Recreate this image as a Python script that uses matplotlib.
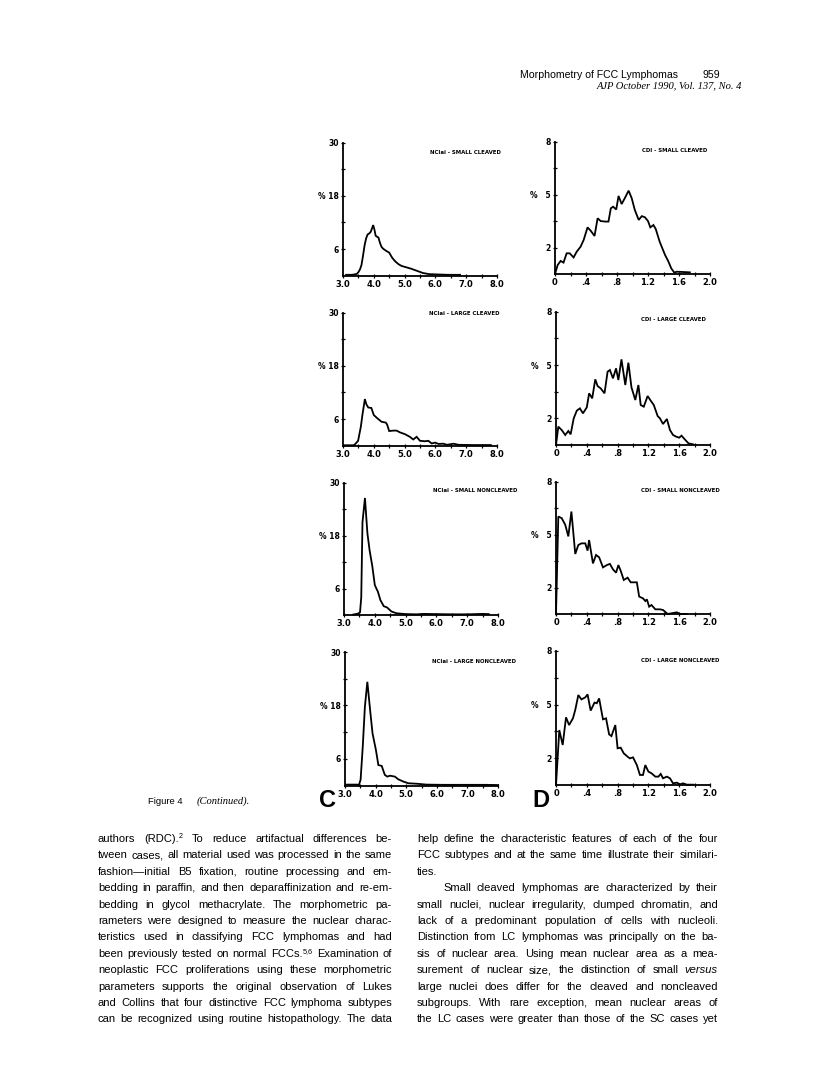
import matplotlib
matplotlib.use("Agg")
import matplotlib.pyplot as plt

W, H = 816, 1092

# ---- histogram traces (x value, % of nuclei) ----
nci_sc_x = [3.1, 3.3, 3.45, 3.5, 3.55, 3.6, 3.65, 3.7, 3.75, 3.8, 3.85, 3.9, 3.95, 3.98, 4.02, 4.06, 4.1, 4.15,
            4.2, 4.25, 4.3, 4.4, 4.5, 4.6, 4.7, 4.8, 4.9, 5.0, 5.2, 5.4, 5.6, 5.8, 6.0, 6.4, 6.8]
nci_sc_y = [0.2, 0.2, 0.4, 0.8, 1.4, 2.4, 4.5, 6.8, 8.4, 9.3, 9.5, 9.9, 10.8, 11.4, 10.4, 9.0, 8.8, 8.6,
            7.4, 6.5, 6.1, 5.6, 5.2, 4.0, 3.2, 2.6, 2.2, 2.0, 1.6, 1.1, 0.6, 0.35, 0.3, 0.2, 0.2]

nci_lc_x = [3.05, 3.35, 3.4, 3.49, 3.58, 3.63, 3.71, 3.76, 3.82, 3.92, 4.0, 4.11, 4.25, 4.39, 4.43, 4.5, 4.63,
            4.74, 4.85, 5.01, 5.17, 5.28, 5.39, 5.5, 5.66, 5.77, 5.88, 5.99, 6.1, 6.26, 6.37, 6.59, 6.75, 7.2, 7.8]
nci_lc_y = [0.1, 0.1, 0.4, 1.1, 4.3, 6.9, 10.5, 9.3, 8.6, 8.5, 6.9, 6.2, 5.4, 5.2, 4.8, 3.3, 3.4,
            3.4, 3.0, 2.6, 2.0, 1.4, 2.0, 1.1, 1.0, 1.1, 0.5, 0.7, 0.4, 0.45, 0.2, 0.45, 0.2, 0.15, 0.15]

nci_snc_x = [3.3, 3.45, 3.52, 3.56, 3.6, 3.68, 3.76, 3.83, 3.92, 4.0, 4.05, 4.1, 4.18, 4.29, 4.4, 4.54, 4.7,
             5.0, 5.35, 5.6, 6.0, 6.5, 7.0, 7.5, 7.7]
nci_snc_y = [0.1, 0.3, 0.6, 4.0, 21.0, 26.5, 18.5, 14.7, 11.0, 6.8, 6.0, 5.3, 3.4, 2.0, 1.7, 0.8, 0.4,
             0.2, 0.15, 0.25, 0.2, 0.15, 0.15, 0.25, 0.2]

nci_lnc_x = [3.05, 3.4, 3.45, 3.51, 3.58, 3.65, 3.73, 3.82, 3.9, 4.01, 4.09, 4.2, 4.3, 4.38, 4.47, 4.63, 4.74,
             4.9, 5.07, 5.34, 5.66, 6.2, 7.0, 7.6, 8.0]
nci_lnc_y = [0.2, 0.2, 0.0, 1.3, 8.7, 17.7, 23.3, 17.0, 11.7, 8.0, 4.6, 4.4, 2.4, 2.0, 2.2, 2.0, 1.4,
             0.9, 0.5, 0.4, 0.2, 0.15, 0.15, 0.15, 0.1]

cdi_sc_x = [0.0, 0.034, 0.073, 0.11, 0.15, 0.19, 0.24, 0.28, 0.33, 0.37, 0.42, 0.46, 0.51, 0.55, 0.59, 0.65,
            0.69, 0.72, 0.75, 0.79, 0.82, 0.86, 0.9, 0.95, 0.99, 1.03, 1.08, 1.12, 1.16, 1.2, 1.23, 1.27,
            1.3, 1.35, 1.42, 1.46, 1.5, 1.54, 1.57, 1.74]
cdi_sc_y = [0.0, 0.54, 0.79, 0.69, 1.25, 1.25, 1.0, 1.35, 1.65, 2.06, 2.82, 2.62, 2.3, 3.37, 3.2, 3.17,
            3.17, 3.97, 4.07, 3.9, 4.72, 4.23, 4.58, 5.04, 4.58, 3.87, 3.27, 3.5, 3.43, 3.2, 2.82, 2.96,
            2.72, 1.96, 1.15, 0.79, 0.34, 0.08, 0.14, 0.1]

cdi_lc_x = [0.0, 0.03, 0.074, 0.12, 0.16, 0.19, 0.23, 0.27, 0.31, 0.35, 0.4, 0.43, 0.47, 0.51, 0.54, 0.58,
            0.63, 0.67, 0.7, 0.74, 0.78, 0.81, 0.85, 0.9, 0.94, 0.98, 1.03, 1.07, 1.1, 1.14, 1.19, 1.23,
            1.27, 1.32, 1.35, 1.39, 1.44, 1.48, 1.52, 1.56, 1.6, 1.63, 1.68, 1.72, 1.78]
cdi_lc_y = [0.0, 1.1, 0.9, 0.6, 0.84, 0.64, 1.6, 2.06, 2.2, 1.9, 2.26, 3.1, 2.8, 3.94, 3.54, 3.4,
            3.1, 4.4, 4.5, 4.0, 4.6, 3.9, 5.14, 3.6, 4.94, 3.46, 2.7, 3.6, 2.4, 2.3, 2.94, 2.66,
            2.4, 1.74, 1.6, 1.26, 1.56, 0.9, 0.6, 0.5, 0.44, 0.56, 0.3, 0.1, 0.04]

cdi_snc_x = [0.0, 0.03, 0.074, 0.12, 0.16, 0.2, 0.25, 0.29, 0.33, 0.38, 0.41, 0.43, 0.48, 0.52, 0.56, 0.61,
             0.66, 0.7, 0.74, 0.78, 0.81, 0.84, 0.88, 0.93, 0.97, 1.05, 1.08, 1.13, 1.16, 1.18, 1.21, 1.24,
             1.29, 1.35, 1.39, 1.45, 1.5, 1.57, 1.61, 1.7]
cdi_snc_y = [0.0, 5.9, 5.8, 5.4, 4.7, 6.2, 3.64, 4.18, 4.28, 4.28, 3.84, 4.48, 3.07, 3.58, 3.44, 2.83,
             2.97, 3.04, 2.71, 2.51, 2.97, 2.63, 2.07, 2.21, 1.93, 1.93, 1.07, 0.96, 0.8, 0.9, 0.46, 0.56,
             0.3, 0.3, 0.26, 0.02, 0.06, 0.12, 0.02, 0.02]

cdi_lnc_x = [0.0, 0.017, 0.043, 0.087, 0.13, 0.17, 0.22, 0.25, 0.29, 0.33, 0.38, 0.41, 0.45, 0.5, 0.53, 0.56,
             0.61, 0.65, 0.69, 0.72, 0.77, 0.8, 0.84, 0.88, 0.93, 0.96, 1.0, 1.05, 1.09, 1.13, 1.16, 1.2,
             1.24, 1.29, 1.33, 1.36, 1.39, 1.44, 1.48, 1.52, 1.57, 1.61, 1.65, 1.7, 1.78]
cdi_lnc_y = [0.0, 1.3, 3.28, 2.39, 4.04, 3.58, 3.98, 4.48, 5.37, 5.11, 5.23, 5.41, 4.44, 4.92, 4.88, 5.17,
             3.92, 3.98, 3.02, 2.92, 3.58, 2.19, 2.23, 1.89, 1.69, 1.59, 1.65, 1.19, 0.6, 0.6, 1.19, 0.8,
             0.7, 0.5, 0.5, 0.66, 0.4, 0.5, 0.4, 0.1, 0.14, 0.04, 0.1, 0.02, 0.02]

left_titles = ["NCIai - SMALL CLEAVED", "NCIai - LARGE CLEAVED", "NCIai - SMALL NONCLEAVED", "NCIai - LARGE NONCLEAVED"]
right_titles = ["CDI - SMALL CLEAVED", "CDI - LARGE CLEAVED", "CDI - SMALL NONCLEAVED", "CDI - LARGE NONCLEAVED"]

nci_xticks = [3.0, 3.5, 4.0, 4.5, 5.0, 5.5, 6.0, 6.5, 7.0, 7.5, 8.0]
nci_xlabels = ["3.0", "", "4.0", "", "5.0", "", "6.0", "", "7.0", "", "8.0"]
nci_yticks = [6, 12, 18, 24, 30]
nci_ylabels = ["6", "", "% 18", "", "30"]
cdi_xticks = [0.0, 0.2, 0.4, 0.6, 0.8, 1.0, 1.2, 1.4, 1.6, 1.8, 2.0]
cdi_xlabels = ["0", "", ".4", "", ".8", "", "1.2", "", "1.6", "", "2.0"]
cdi_yticks = [1.6, 3.2, 4.8, 6.4, 8.0]
cdi_ylabels = ["2", "", "%   5", "", "8"]

left_col = [
    "authors (RDC).^2 To reduce artifactual differences be-",
    "tween cases, all material used was processed in the same",
    "fashion\u2014initial B5 fixation, routine processing and em-",
    "bedding in paraffin, and then deparaffinization and re-em-",
    "bedding in glycol methacrylate. The morphometric pa-",
    "rameters were designed to measure the nuclear charac-",
    "teristics used in classifying FCC lymphomas and had",
    "been previously tested on normal FCCs.^5,6 Examination of",
    "neoplastic FCC proliferations using these morphometric",
    "parameters supports the original observation of Lukes",
    "and Collins that four distinctive FCC lymphoma subtypes",
    "can be recognized using routine histopathology. The data",
]
right_col = [
    "help define the characteristic features of each of the four",
    "FCC subtypes and at the same time illustrate their similari-",
    "ties.",
    "Small cleaved lymphomas are characterized by their",
    "small nuclei, nuclear irregularity, clumped chromatin, and",
    "lack of a predominant population of cells with nucleoli.",
    "Distinction from LC lymphomas was principally on the ba-",
    "sis of nuclear area. Using mean nuclear area as a mea-",
    "surement of nuclear size, the distinction of small _versus_",
    "large nuclei does differ for the cleaved and noncleaved",
    "subgroups. With rare exception, mean nuclear areas of",
    "the LC cases were greater than those of the SC cases yet",
]

SANS = ["Liberation Sans", "DejaVu Sans"]
SERIF = ["Liberation Serif", "DejaVu Serif"]
BODY_FS = 8.0

fig = plt.figure(figsize=(W / 100, H / 100), dpi=100)
fig.patch.set_facecolor("white")


def px_axes(x0, top, x1, bottom):
    return fig.add_axes([x0 / W, 1 - bottom / H, (x1 - x0) / W, (bottom - top) / H])


def panel(ax, x, y, xlim, ylim, xt, xl, yt, yl, title, tpos):
    ax.plot(x, y, color="black", lw=1.3, clip_on=False, solid_joinstyle="miter")
    ax.set_xlim(xlim)
    ax.set_ylim(ylim)
    ax.patch.set_alpha(0)
    for s in ["top", "right"]:
        ax.spines[s].set_visible(False)
    for s in ["left", "bottom"]:
        ax.spines[s].set_linewidth(1.3)
    ax.set_xticks(xt)
    ax.set_xticklabels(xl, fontsize=6, fontweight="bold", family="DejaVu Sans")
    ax.set_yticks(yt)
    ax.set_yticklabels(yl, fontsize=5.5, fontweight="bold", family="DejaVu Sans")
    ax.tick_params(axis="both", direction="inout", length=3, width=0.9, pad=1.5)
    ax.text(tpos[0], tpos[1], title, transform=ax.transAxes, fontsize=4.3, fontweight="bold",
            family="DejaVu Sans", fontstretch="condensed", va="center", ha="left")


left_series = [(nci_sc_x, nci_sc_y), (nci_lc_x, nci_lc_y), (nci_snc_x, nci_snc_y), (nci_lnc_x, nci_lnc_y)]
right_series = [(cdi_sc_x, cdi_sc_y), (cdi_lc_x, cdi_lc_y), (cdi_snc_x, cdi_snc_y), (cdi_lnc_x, cdi_lnc_y)]
left_box = [(343, 142.5, 497, 275.7), (343, 312.5, 497, 445.7), (344, 482.5, 498, 615), (345, 652, 498, 785.5)]
right_box = [(555, 141.7, 710, 274), (556, 311.7, 710, 445), (556, 481.7, 710, 614.3), (556, 651, 710, 785)]
left_tpos = [(0.565, 0.925), (0.56, 0.995), (0.58, 0.94), (0.57, 0.93)]
right_tpos = [(0.56, 0.93), (0.555, 0.94), (0.555, 0.935), (0.555, 0.93)]

for i in range(4):
    ax = px_axes(*left_box[i])
    panel(ax, *left_series[i], (3.0, 8.0), (0, 30), nci_xticks, nci_xlabels, nci_yticks, nci_ylabels,
          left_titles[i], left_tpos[i])
    ax = px_axes(*right_box[i])
    panel(ax, *right_series[i], (0.0, 2.0), (0, 8), cdi_xticks, cdi_xlabels, cdi_yticks, cdi_ylabels,
          right_titles[i], right_tpos[i])


def ftext(x, y, s, **kw):
    return fig.text(x / W, 1 - y / H, s, **kw)


# page header
ftext(520, 78, "Morphometry of FCC Lymphomas", fontsize=7.6, family=SANS, va="baseline")
ftext(720, 78, "959", fontsize=7.6, family=SANS, va="baseline", ha="right")
ftext(742, 88, "AJP October 1990, Vol. 137, No. 4", fontsize=7.6, family=SERIF,
      style="italic", va="baseline", ha="right")

# caption and panel letters
ftext(148, 804, "Figure 4", fontsize=6.8, family=SANS, va="baseline")
ftext(197, 804, "(Continued).", fontsize=7.6, family=SERIF, style="italic", va="baseline")
ftext(319, 807, "C", fontsize=17, family=SANS, fontweight="bold", va="baseline")
ftext(532, 807, "D", fontsize=17, family=SANS, fontweight="bold", va="baseline")

renderer = fig.canvas.get_renderer()


def draw_line(line, x_left, x_right, base_y, justify):
    items = []
    for w in line.split():
        style = "normal"
        if w.startswith("_") and w.endswith("_"):
            w = w[1:-1]
            style = "italic"
        base, _, sup = w.partition("^")
        t = ftext(0, 0, base, fontsize=BODY_FS, family=SANS, style=style, va="baseline")
        wid = t.get_window_extent(renderer=renderer).width
        s, swid = None, 0.0
        if sup:
            s = ftext(0, 0, sup, fontsize=BODY_FS * 0.65, family=SANS, va="baseline")
            swid = s.get_window_extent(renderer=renderer).width + 0.5
        items.append((t, wid, s, swid))
    total = sum(it[1] + it[3] for it in items)
    gap = 2.6
    if justify and len(items) > 1:
        gap = max((x_right - x_left - total) / (len(items) - 1), 1.8)
    x = x_left
    for t, wid, s, swid in items:
        t.set_position((x / W, 1 - base_y / H))
        x += wid
        if s is not None:
            s.set_position((x / W, 1 - (base_y - 3.6) / H))
            x += swid
        x += gap


line_y0, line_dy = 842.0, 16.4
for i, line in enumerate(left_col):
    draw_line(line, 98, 392, line_y0 + i * line_dy, True)
for i, line in enumerate(right_col):
    indent = 26 if i == 3 else 0
    draw_line(line, 417 + indent, 718, line_y0 + i * line_dy, i != 2)

fig.savefig("out.png", dpi=100, facecolor="white")
